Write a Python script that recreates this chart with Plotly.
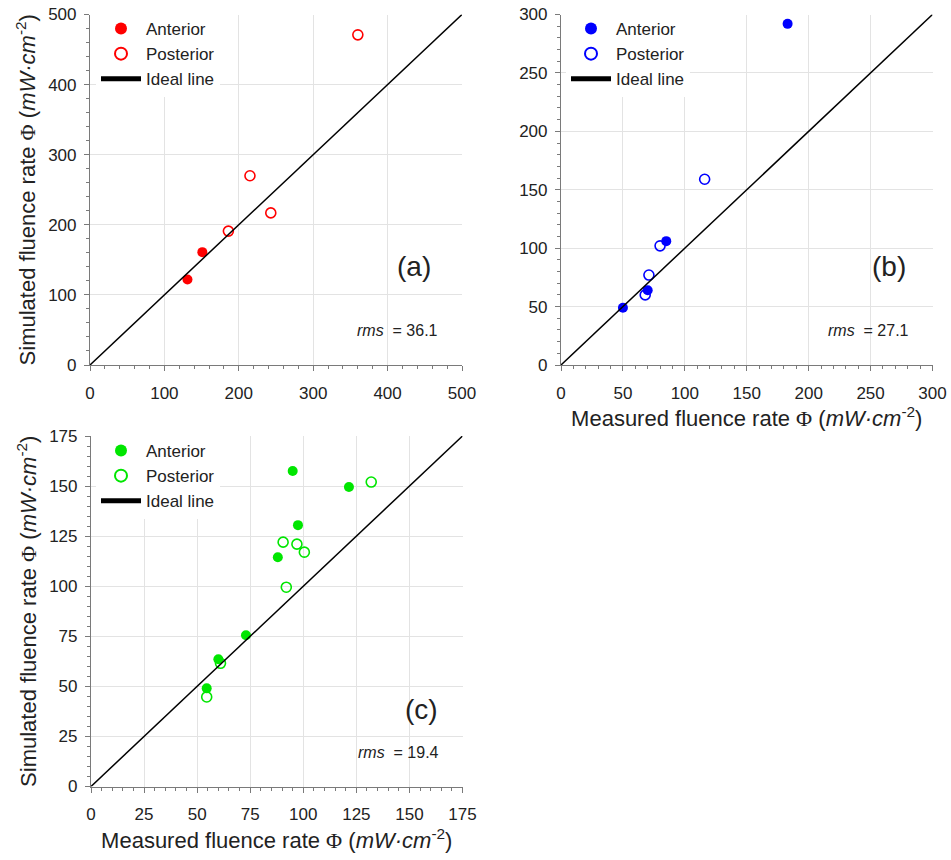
import plotly.graph_objects as go

# ---------------- data ----------------
# Panel (a) - red
a_ant_x = [131, 151]
a_ant_y = [122, 161]
a_post_x = [186, 215, 243, 360]
a_post_y = [191, 270, 217, 471]
a_ideal = [0, 500]
a_ticks = [0, 100, 200, 300, 400, 500]

# Panel (b) - blue
b_ant_x = [50, 70, 85, 183]
b_ant_y = [49, 64, 106, 292]
b_post_x = [68, 71, 80, 116]
b_post_y = [60, 77, 102, 159]
b_ideal = [0, 300]
b_ticks = [0, 50, 100, 150, 200, 250, 300]

# Panel (c) - green
c_ant_x = [95, 121.5, 97.5, 88, 73, 60, 54.5]
c_ant_y = [157.5, 149.5, 130.5, 114.5, 75.5, 63.5, 49]
c_post_x = [132, 90.5, 97, 100.5, 92, 61, 54.5]
c_post_y = [152, 122, 121, 117, 99.5, 61.5, 44.7]
c_ideal = [0, 175]
c_ticks = [0, 25, 50, 75, 100, 125, 150, 175]

rms_labels = ["36.1", "27.1", "19.4"]
panel_labels = ["(a)", "(b)", "(c)"]

# ---------------- style ----------------
FONT = "Liberation Sans, Arial, sans-serif"
RED, BLUE, GREEN = "#ff0000", "#0000ff", "#00e600"
W, H = 951, 860

def px_x(p):
    return p / W

def px_y(p):
    return 1 - p / H

dom = {
    "a": ([px_x(90), px_x(462)], [px_y(365), px_y(14.5)]),
    "b": ([px_x(561), px_x(932.5)], [px_y(365), px_y(14.5)]),
    "c": ([px_x(91), px_x(462.5)], [px_y(786.5), px_y(436)]),
}

title_text = ("{} fluence rate <span style='font-family:Liberation Serif'>\u03a6</span> "
              "(<i>mW\u00b7cm</i><sup>-2</sup>)")

fig = go.Figure()

def add_panel(ax_x, ax_y, ant_x, ant_y, post_x, post_y, ideal, color, legend):
    fig.add_trace(go.Scatter(x=ant_x, y=ant_y, mode="markers", name="Anterior",
                             marker=dict(symbol="circle", size=10, color=color),
                             xaxis=ax_x, yaxis=ax_y, legend=legend))
    fig.add_trace(go.Scatter(x=post_x, y=post_y, mode="markers", name="Posterior",
                             marker=dict(symbol="circle-open", size=10, color=color,
                                         line=dict(width=1.6, color=color)),
                             xaxis=ax_x, yaxis=ax_y, legend=legend))
    fig.add_trace(go.Scatter(x=ideal, y=ideal, mode="lines", name="Ideal line",
                             line=dict(color="black", width=1.5),
                             xaxis=ax_x, yaxis=ax_y, legend=legend))

add_panel("x", "y", a_ant_x, a_ant_y, a_post_x, a_post_y, a_ideal, RED, "legend")
add_panel("x2", "y2", b_ant_x, b_ant_y, b_post_x, b_post_y, b_ideal, BLUE, "legend2")
add_panel("x3", "y3", c_ant_x, c_ant_y, c_post_x, c_post_y, c_ideal, GREEN, "legend3")

def axis(domain, ticks, minor_step, title=None, anchor=None, standoff=4, tls=4):
    d = dict(
        domain=domain, range=[ticks[0], ticks[-1]], tickvals=ticks,
        automargin=False, ticklabeloverflow="allow",
        showline=True, linecolor="#7a7a7a", linewidth=1.2,
        ticks="outside", ticklen=5, tickcolor="#7a7a7a", tickwidth=1.2,
        ticklabelstandoff=tls,
        showgrid=True, gridcolor="#e3e3e3", gridwidth=1,
        zeroline=False, mirror=False,
        tickfont=dict(family=FONT, size=17, color="#222222"),
        minor=dict(dtick=minor_step, tick0=0, ticks="outside", ticklen=3,
                   tickcolor="#7a7a7a", tickwidth=1, showgrid=False),
        anchor=anchor,
    )
    if title:
        d["title"] = dict(text=title, font=dict(family=FONT, size=22, color="#222222"),
                          standoff=standoff)
    return d

fig.update_layout(
    width=W, height=H,
    margin=dict(l=0, r=0, t=0, b=0, autoexpand=False),
    paper_bgcolor="white", plot_bgcolor="white",
    font=dict(family=FONT, color="#222222"),
    xaxis=axis(dom["a"][0], a_ticks, 20, anchor="y", tls=7),
    yaxis=axis(dom["a"][1], a_ticks, 20, title=title_text.format("Simulated"), anchor="x",
               standoff=6, tls=4),
    xaxis2=axis(dom["b"][0], b_ticks, 10, title=title_text.format("Measured"), anchor="y2",
                standoff=9, tls=7),
    yaxis2=axis(dom["b"][1], b_ticks, 10, anchor="x2", tls=4),
    xaxis3=axis(dom["c"][0], c_ticks, 5, title=title_text.format("Measured"), anchor="y3",
                standoff=9, tls=7),
    yaxis3=axis(dom["c"][1], c_ticks, 5, title=title_text.format("Simulated"), anchor="x3",
                standoff=6, tls=4),
)

leg_common = dict(bgcolor="white", borderwidth=0, xanchor="left", yanchor="top",
                  font=dict(family=FONT, size=17, color="#222222"),
                  tracegroupgap=0, itemsizing="constant", itemwidth=40,
                  xref="paper", yref="paper")
fig.update_layout(
    legend=dict(x=px_x(96), y=px_y(11), **leg_common),
    legend2=dict(x=px_x(566), y=px_y(11), **leg_common),
    legend3=dict(x=px_x(96), y=px_y(433), **leg_common),
)

# annotations
label_xy = [(414, 267), (889, 267), (421, 709)]
rms_xy = [(440, 331), (911, 331), (441, 752)]
for i in range(3):
    lx, ly = label_xy[i]
    fig.add_annotation(text=panel_labels[i], xref="paper", yref="paper",
                       x=px_x(lx), y=px_y(ly), xanchor="center", yanchor="middle",
                       showarrow=False, font=dict(family=FONT, size=28, color="#222222"))
    rx, ry = rms_xy[i]
    fig.add_annotation(text="<i>rms</i>  = " + rms_labels[i], xref="paper", yref="paper",
                       x=px_x(rx), y=px_y(ry), xanchor="right", yanchor="middle",
                       showarrow=False, font=dict(family=FONT, size=16, color="#222222"))

fig.write_html("out.html",
               config={"displayModeBar": False},
               post_script="document.body.style.margin='0';document.body.style.overflow='hidden';")
